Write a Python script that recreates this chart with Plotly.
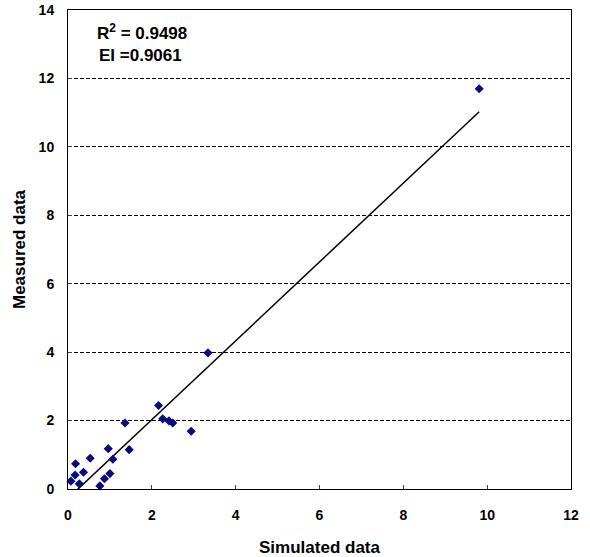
import plotly.graph_objects as go

simulated = [0.07, 0.17, 0.18, 0.27, 0.37, 0.53, 0.76, 0.87, 0.96, 1.00, 1.07,
             1.36, 1.46, 2.16, 2.26, 2.41, 2.50, 2.94, 3.34, 9.81]
measured = [0.23, 0.41, 0.74, 0.15, 0.49, 0.90, 0.09, 0.30, 1.18, 0.45, 0.87,
            1.93, 1.15, 2.44, 2.05, 1.99, 1.93, 1.69, 3.98, 11.70]

slope = 1.152
intercept = -0.276
trend_x = [min(simulated), max(simulated)]
trend_y = [slope * v + intercept for v in trend_x]

x_ticks = [0, 2, 4, 6, 8, 10, 12]
y_ticks = [0, 2, 4, 6, 8, 10, 12, 14]

fig = go.Figure()
fig.add_trace(go.Scatter(x=trend_x, y=trend_y, mode="lines",
                         line=dict(color="black", width=1.5), showlegend=False,
                         cliponaxis=True))
fig.add_trace(go.Scatter(x=simulated, y=measured, mode="markers",
                         marker=dict(symbol="diamond", size=7, color="#0a0a80"),
                         showlegend=False, cliponaxis=False))

font = "Arial, Liberation Sans, sans-serif"
fig.update_layout(
    width=590, height=557,
    margin=dict(l=68, r=19, t=10, b=68, autoexpand=False),
    paper_bgcolor="white", plot_bgcolor="white",
    font=dict(family=font, color="black"),
    xaxis=dict(range=[0, 12], tickvals=x_ticks, ticks="inside", ticklen=4,
               automargin=False, ticklabelstandoff=13,
               showgrid=False, zeroline=False, showline=True, linecolor="black",
               linewidth=1, mirror=True,
               tickfont=dict(size=14, family=font, weight="bold"),
               title=dict(text="Simulated data", font=dict(size=17, family=font, weight="bold"),
                          standoff=20)),
    yaxis=dict(range=[0, 14], tickvals=y_ticks, ticks="inside", ticklen=4,
               automargin=False, ticklabelstandoff=10,
               showgrid=True, gridcolor="black", griddash="4px,2px", gridwidth=1,
               zeroline=False, showline=True, linecolor="black", linewidth=1, mirror=True,
               tickfont=dict(size=14, family=font, weight="bold"),
               title=dict(text="Measured data", font=dict(size=17, family=font, weight="bold"),
                          standoff=8)),
    annotations=[
        dict(x=0.054, y=0.954, xref="paper", yref="paper", xanchor="left", yanchor="middle",
             text="R<sup>2</sup> = 0.9498", showarrow=False,
             font=dict(size=17, family=font, weight="bold")),
        dict(x=0.058, y=0.906, xref="paper", yref="paper", xanchor="left", yanchor="middle",
             text="EI =0.9061", showarrow=False,
             font=dict(size=17, family=font, weight="bold")),
    ],
)
fig.write_html("out.html", config={"displayModeBar": False},
               post_script="document.body.style.margin='0px';")
